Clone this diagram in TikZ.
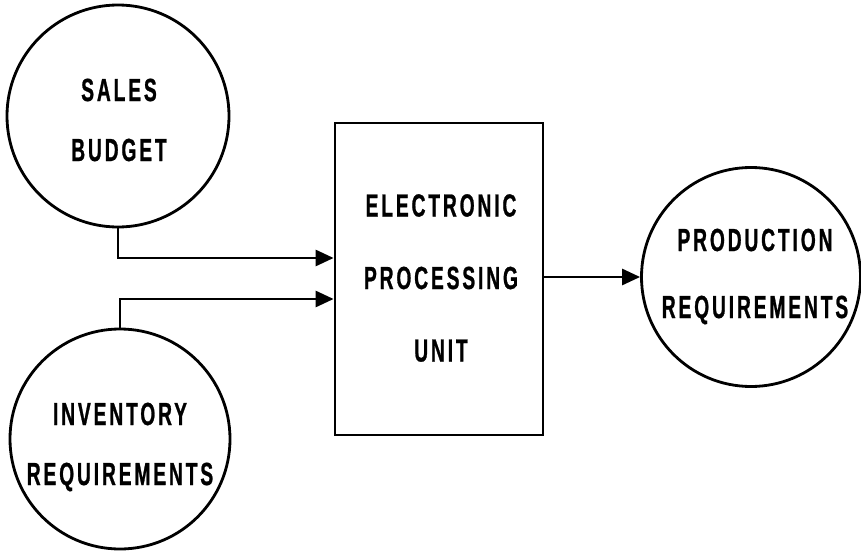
\documentclass[tikz,border=0pt]{standalone}
\usepackage{fontspec}
\newfontfamily\lettering[FakeStretch=0.6,LetterSpace=9,FakeBold=0.8]{Liberation Sans}
\usetikzlibrary{arrows.meta}
\begin{document}
\begin{tikzpicture}[x=1pt,y=-1pt,
  ink/.style={line width=2.8pt,black},
  bubble/.style={ink,draw,circle,inner sep=0pt},
  block/.style={ink,draw,rectangle,inner sep=0pt,minimum width=208pt,minimum height=312pt},
  lbl/.style={align=center,inner sep=0pt,font=\lettering\bfseries\fontsize{32}{#1}\selectfont},
  flow/.style={ink,-{Triangle[length=18pt,width=16pt]}}]
  \useasboundingbox (0,0) rectangle (861,551);

  % the three data sources / sinks
  \node[bubble,minimum size=222pt] (sales) at (118,116) {};
  \node[bubble,minimum size=220pt] (inv) at (120,439) {};
  \node[bubble,minimum size=219pt] (prod) at (751,277) {};

  % processing block
  \node[block] (epu) at (439,279) {};

  % lettering
  \node[lbl=60pt] (salesT) at (119,120) {SALES\\BUDGET};
  \node[lbl=60pt] (invT) at (120,447) {INVENTORY\\REQUIREMENTS};
  \node[lbl=67pt] (prodT) at (755,276.5) {PRODUCTION\\REQUIREMENTS};
  \node[lbl=72.5pt] (epuT) at (441,278) {ELECTRONIC\\PROCESSING\\UNIT};

  % flows
  \draw[flow] (sales.south) |- ([yshift=21pt]epu.west);
  \draw[flow] (inv.north) |- ([yshift=-20pt]epu.west);
  \draw[flow] (epu.east |- prod.west) -- (prod.west);
\end{tikzpicture}
\end{document}
